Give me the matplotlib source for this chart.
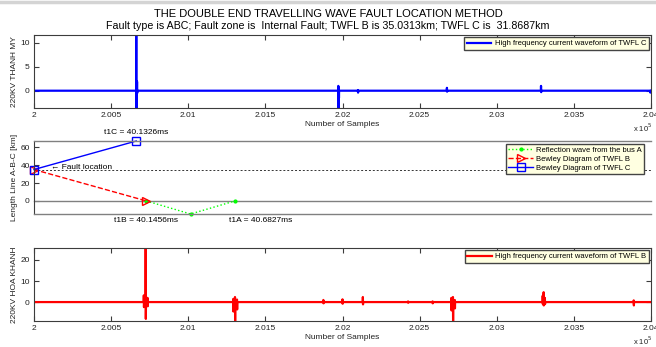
import matplotlib
matplotlib.use("Agg")
import matplotlib.pyplot as plt
from matplotlib.lines import Line2D
import numpy as np

plt.rcParams['font.family'] = ['Liberation Sans', 'DejaVu Sans']

# ---------------- data ----------------
x_start, x_end = 200000, 204000
xtick_vals = [200000, 200500, 201000, 201500, 202000, 202500, 203000, 203500, 204000]
xtick_labels = ["2", "2.005", "2.01", "2.015", "2.02", "2.025", "2.03", "2.035", "2.04"]

# TWFL C (top) high-frequency current: spike events (sample, max, min)
c_spike_x = [200663, 200668, 201973, 201976, 202100, 202677, 203287, 203995]
c_spike_hi = [11.6, 1.9, 1.0, 0.6, 0.1, 0.6, 1.0, 0.0]
c_spike_lo = [-3.6, -0.5, -3.6, -1.5, -0.4, -0.2, -0.3, -0.4]

# TWFL B (bottom) high-frequency current: spike events (sample, max, min)
b_spike_x = [200712, 200724, 200736, 201292, 201303, 201316, 201876, 202000,
             202132, 202425, 202584, 202706, 202716, 202728, 203298, 203304,
             203312, 203888]
b_spike_hi = [3.2, 25.7, 2.0, 1.5, 2.4, 1.2, 1.0, 1.3,
              2.4, 0.3, 0.3, 2.0, 2.4, 1.0, 3.0, 4.7,
              2.0, 0.8]
b_spike_lo = [-2.4, -8.0, -2.0, -4.5, -9.0, -3.5, -0.6, -0.8,
              -1.1, -0.3, -0.6, -4.0, -9.0, -3.0, -1.0, -1.6,
              -1.0, -1.6]

# Bewley diagram
fault_sample = 200000
twfl_b_km = 35.0313
twfl_c_km = 31.8687
line_len_km = twfl_b_km + twfl_c_km
t1c_sample = 200663
t1b_sample = 200728
refl_x = [200728, 201015, 201303]
refl_y = [0, -14.6, 0]
t1c_label = "t1C = 40.1326ms"
t1b_label = "t1B = 40.1456ms"
t1a_label = "t1A = 40.6827ms"


def build_wave(xs, his, los):
    wx, wy = [x_start], [0.0]
    for x, h, l in zip(xs, his, los):
        wx += [x - 1, x, x + 1, x + 2]
        wy += [0.0, h, l, 0.0]
    wx.append(x_end)
    wy.append(0.0)
    return wx, wy


W, H = 656, 347
fig = plt.figure(figsize=(W / 100, H / 100), dpi=100)
fig.patch.set_facecolor('white')

def ax_rect(top_px, bot_px, left_px=34, right_px=651):
    return [left_px / W, 1 - bot_px / H, (right_px - left_px) / W, (bot_px - top_px) / H]

spine_col = '#3c3c3c'
fs_tick = 6
fs_label = 6
ylab_x = (18 - 34) / 617

def style_axes(ax):
    for s in ax.spines.values():
        s.set_color(spine_col)
        s.set_linewidth(0.8)
    ax.tick_params(direction='in', length=3.5, width=0.8, colors=spine_col,
                   labelsize=fs_tick, labelcolor='#222222', top=True, right=True, pad=3)
    ax.set_xlim(x_start, x_end)
    ax.set_xticks(xtick_vals)
    ax.set_xticklabels(xtick_labels)
    ax.set_xlabel("Number of Samples", fontsize=fs_label, labelpad=1, color='#222222')
    ax.text(1.002, -0.18, r"x 10$^5$", transform=ax.transAxes, fontsize=5.5,
            ha='right', va='top', color='#222222')

leg_kw = dict(fontsize=5.5, facecolor='#ffffe1', edgecolor='#444444', framealpha=1,
              fancybox=False, borderpad=0.35, handletextpad=0.4, labelspacing=0.2,
              borderaxespad=0.3, handlelength=3.2, numpoints=1)

# ---------------- top ----------------
ax1 = fig.add_axes(ax_rect(35, 108))
cx, cy = build_wave(c_spike_x, c_spike_hi, c_spike_lo)
ax1.plot(cx, cy, color='#0000ff', lw=1.6, label="High frequency current waveform of TWFL C")
ax1.set_ylim(-3.6, 11.6)
ax1.set_yticks([0, 5, 10])
style_axes(ax1)
ax1.set_ylabel("220KV THANH MY", fontsize=fs_label, color='#222222')
ax1.yaxis.set_label_coords(ylab_x, 0.5)
ax1.legend(loc='upper right', **leg_kw)

fig.text(0.5, 1 - 14 / H, "THE DOUBLE END TRAVELLING WAVE FAULT LOCATION METHOD",
         ha='center', va='center', fontsize=8)
fig.text(0.5, 1 - 26 / H,
         "Fault type is ABC; Fault zone is  Internal Fault; TWFL B is 35.0313km; TWFL C is  31.8687km",
         ha='center', va='center', fontsize=7.7)

# ---------------- middle ----------------
ax2 = fig.add_axes(ax_rect(141, 214))
ax2.set_xlim(x_start, x_end)
ax2.set_ylim(-14.6, line_len_km)
ax2.axhline(twfl_b_km, color='#333333', lw=0.7, ls=(0, (2, 2)))
ax2.axhline(0, color='#808080', lw=1.0)
ax2.plot(refl_x, refl_y, color='#00ff00', ls=':', lw=1.0, marker='.', ms=4,
         label="Reflection wave from the bus A")
ax2.plot([fault_sample, t1b_sample], [twfl_b_km, 0], color='#ff0000', ls='--', lw=1.0,
         marker='>', ms=6, mfc='none', mec='#ff0000', label="Bewley Diagram of TWFL B")
ax2.plot([fault_sample, t1c_sample], [twfl_b_km, line_len_km], color='#0000ff', ls='-', lw=1.0,
         marker='s', ms=5.5, mfc='none', mec='#0000ff', label="Bewley Diagram of TWFL C")
for s in ['top', 'bottom']:
    ax2.spines[s].set_color('#808080')
    ax2.spines[s].set_linewidth(1.0)
ax2.spines['right'].set_visible(False)
ax2.spines['left'].set_color(spine_col)
ax2.spines['left'].set_linewidth(0.8)
ax2.set_xticks([])
ax2.set_yticks([0, 20, 40, 60])
ax2.tick_params(axis='y', direction='in', length=3.5, width=0.8, colors=spine_col,
                labelsize=fs_tick, labelcolor='#222222', pad=3)
ax2.set_ylabel("Length Line A-B-C [km]", fontsize=fs_label, color='#222222')
ax2.yaxis.set_label_coords(ylab_x, 0.5)
for ln in ax2.lines:
    ln.set_clip_on(False)
ax2.annotate(t1c_label, (t1c_sample, line_len_km), xytext=(0, 6), textcoords='offset points',
             ha='center', va='center', fontsize=6)
ax2.annotate(t1b_label, (t1b_sample, -14.6), xytext=(0, -5), textcoords='offset points',
             ha='center', va='center', fontsize=6)
ax2.annotate(t1a_label, (refl_x[-1], -14.6), xytext=(-4, -5), textcoords='offset points',
             ha='left', va='center', fontsize=6)
ax2.annotate("\u2190 Fault location", (fault_sample, twfl_b_km), xytext=(12, 1.5),
             textcoords='offset points', ha='left', va='center', fontsize=6)
ax2.legend(loc='upper right', bbox_to_anchor=(0.993, 0.99), **leg_kw)

# ---------------- bottom ----------------
ax3 = fig.add_axes(ax_rect(248, 321))
bx, by = build_wave(b_spike_x, b_spike_hi, b_spike_lo)
ax3.plot(bx, by, color='#ff0000', lw=1.6, label="High frequency current waveform of TWFL B")
ax3.set_ylim(-9.0, 25.7)
ax3.set_yticks([0, 10, 20])
style_axes(ax3)
ax3.set_ylabel("220KV HOA KHANH", fontsize=fs_label, color='#222222')
ax3.yaxis.set_label_coords(ylab_x, 0.5)
ax3.legend(loc='upper right', **leg_kw)

fig.add_artist(Line2D([0, 1], [1 - 1.5 / H, 1 - 1.5 / H], color='#d4d4d4', lw=2.5,
                      transform=fig.transFigure))

fig.savefig("out.png", dpi=100)
